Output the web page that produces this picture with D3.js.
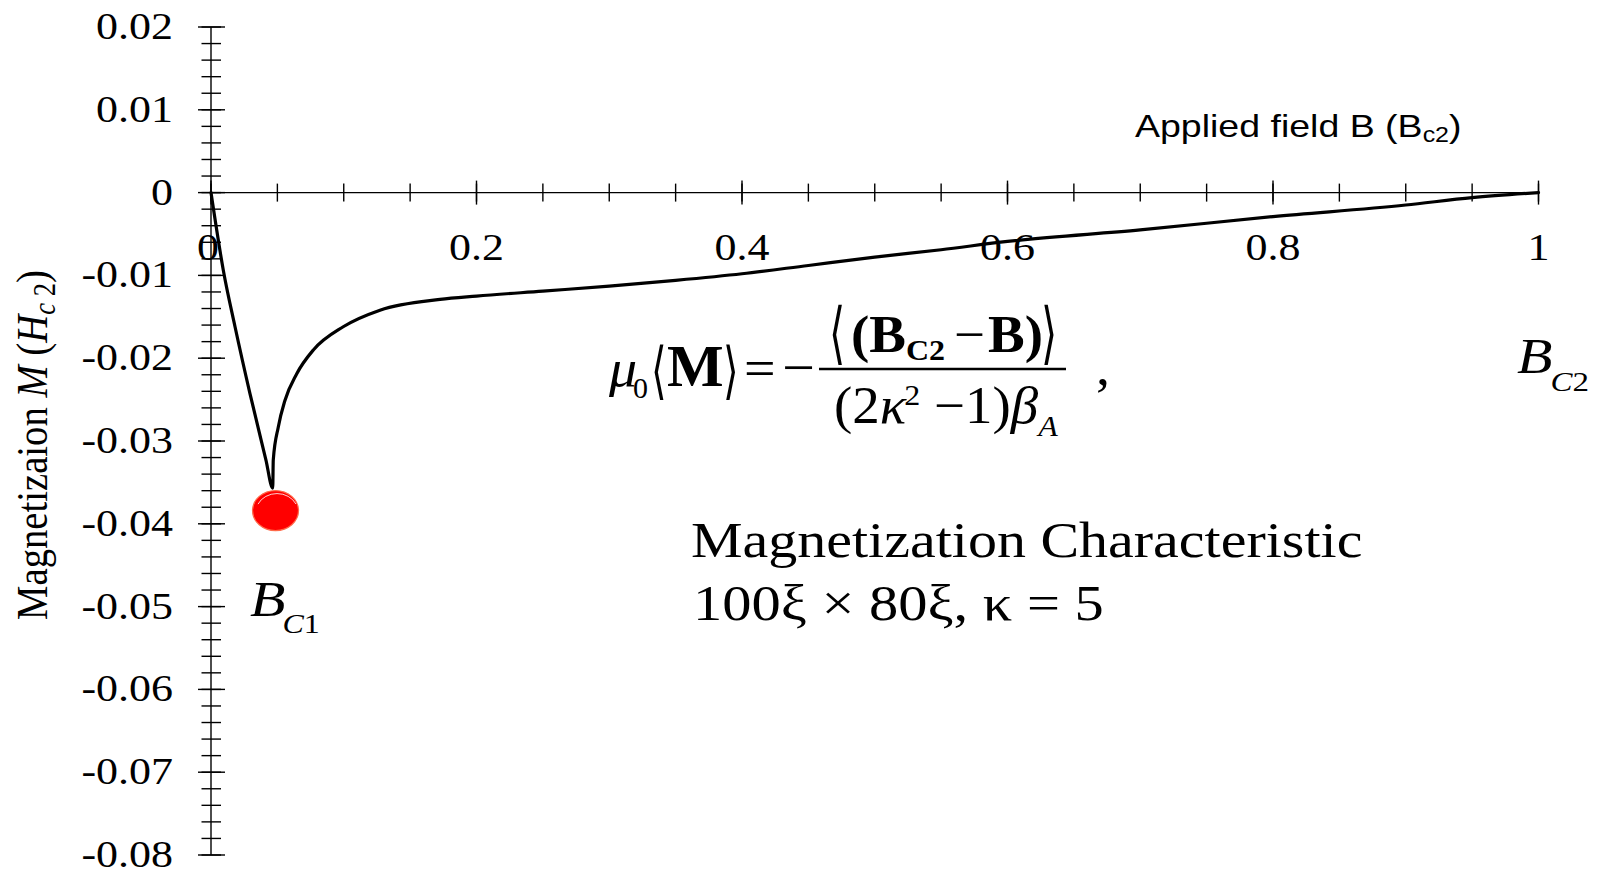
<!DOCTYPE html>
<html>
<head>
<meta charset="utf-8">
<script src="https://cdn.jsdelivr.net/npm/d3@7"></script>
<style>
  body { margin: 0; background: #fff; }
  svg { display: block; }
  text { fill: #000; }
</style>
</head>
<body>
<script>
// Applied field B (in units of Bc2) and the mean magnetization M (in units of Hc2)
const fieldB = [0, 0.0093, 0.0181, 0.0294, 0.0414, 0.0465, 0.0469, 0.0507, 0.0557, 0.0645,
  0.0771, 0.0996, 0.1273, 0.1725, 0.2, 0.25, 0.3, 0.35, 0.4, 0.45, 0.5, 0.55, 0.6, 0.7, 0.8, 0.9, 0.95, 1.0];
const magnetization = [0, -0.0094, -0.0162, -0.0243, -0.0323, -0.0357, -0.0323, -0.0283, -0.0251, -0.0219,
  -0.0190, -0.0162, -0.0142, -0.0129, -0.0125, -0.0119, -0.0113, -0.0106, -0.0098, -0.0088, -0.0078, -0.0069, -0.0059,
  -0.0045, -0.0029, -0.0015, -0.0006, 0];

// Lower critical field marker
const bc1Point = [0.0486, -0.0384];

const xTickValues = [0, 0.2, 0.4, 0.6, 0.8, 1];
const xTickLabels = ["0", "0.2", "0.4", "0.6", "0.8", "1"];
const yTickValues = [0.02, 0.01, 0, -0.01, -0.02, -0.03, -0.04, -0.05, -0.06, -0.07, -0.08];
const yTickLabels = ["0.02", "0.01", "0", "-0.01", "-0.02", "-0.03", "-0.04", "-0.05", "-0.06", "-0.07", "-0.08"];

const W = 1599, H = 869;
const SERIF = "'Liberation Serif', 'Times New Roman', serif";
const SANS = "'Liberation Sans', Arial, sans-serif";
const SY = 0.86; // vertical squash applied to all lettering

const svg = d3.select("body").append("svg").attr("width", W).attr("height", H);

const x = d3.scaleLinear().domain([0, 1]).range([211, 1538.5]);
const y = d3.scaleLinear().domain([-0.08, 0.02]).range([855, 27]);

// ---- axes -----------------------------------------------------------
const axisG = svg.append("g").attr("stroke", "#000").attr("stroke-width", 1.4);

// vertical axis line and crossing ticks
axisG.append("line").attr("x1", x(0)).attr("x2", x(0)).attr("y1", y(0.02)).attr("y2", y(-0.08));
const yMinor = y.ticks(50);
axisG.selectAll(".ymin").data(yMinor).join("line")
  .attr("x1", x(0) - 9.5).attr("x2", x(0) + 10)
  .attr("y1", d => y(d)).attr("y2", d => y(d));
axisG.selectAll(".ymaj").data(yTickValues).join("line")
  .attr("x1", x(0) - 13).attr("x2", x(0) + 14)
  .attr("y1", d => y(d)).attr("y2", d => y(d));

// horizontal axis line through M = 0
axisG.append("line").attr("x1", x(0)).attr("x2", x(1)).attr("y1", y(0)).attr("y2", y(0));
const xMinor = x.ticks(20);
axisG.selectAll(".xmin").data(xMinor).join("line")
  .attr("x1", d => x(d)).attr("x2", d => x(d))
  .attr("y1", y(0) - 9).attr("y2", y(0) + 9);
axisG.selectAll(".xmaj").data(xTickValues).join("line")
  .attr("x1", d => x(d)).attr("x2", d => x(d))
  .attr("y1", y(0) - 12).attr("y2", y(0) + 12);

// squashed text helper
function label(px, py, opts = {}) {
  const t = svg.append("text")
    .attr("transform", `translate(${px},${py}) scale(1,${opts.sy || SY})${opts.rotate ? ` rotate(${opts.rotate})` : ""}`)
    .attr("font-family", opts.family || SERIF)
    .attr("font-size", opts.size || 44)
    .attr("text-anchor", opts.anchor || "start");
  if (opts.italic) t.attr("font-style", "italic");
  if (opts.bold) t.attr("font-weight", "bold");
  return t;
}

// tick labels
xTickValues.forEach((v, i) => {
  label(x(v) - (v === 0 ? 3 : 0), 260, { size: 44, anchor: "middle" }).text(xTickLabels[i]);
});
yTickValues.forEach((v, i) => {
  label(173, y(v) + 12, { size: 44, anchor: "end" }).text(yTickLabels[i]);
});

// axis titles
const xt = label(1135, 137, { family: SANS, size: 37.5 });
xt.append("tspan").text("Applied field B (B");
xt.append("tspan").attr("font-size", 25).attr("dy", 6).text("c2");
xt.append("tspan").attr("dy", -6).text(")");

const yt = label(47, 445, { size: 45, anchor: "middle", rotate: -90 });
yt.append("tspan").text("Magnetizaion ");
yt.append("tspan").attr("font-style", "italic").text("M");
yt.append("tspan").text("  (");
yt.append("tspan").attr("font-style", "italic").text("H");
yt.append("tspan").attr("font-style", "italic").attr("font-size", 31).attr("dy", 8).text("c");
yt.append("tspan").attr("font-size", 31).text(" 2");
yt.append("tspan").attr("dy", -8).text(")");

// ---- magnetization curve -------------------------------------------
const pts = fieldB.map((b, i) => [b, magnetization[i]]);
svg.append("path")
  .datum(pts)
  .attr("fill", "none")
  .attr("stroke", "#000")
  .attr("stroke-width", 3.2)
  .attr("stroke-linejoin", "round")
  .attr("stroke-linecap", "round")
  .attr("d", d3.line().curve(d3.curveMonotoneX).x(d => x(d[0])).y(d => y(d[1])));

// Bc1 marker
svg.append("ellipse")
  .attr("cx", x(bc1Point[0])).attr("cy", y(bc1Point[1]))
  .attr("rx", 23).attr("ry", 20)
  .attr("fill", "#ff0000")
  .attr("stroke", "#ff6a4a").attr("stroke-width", 1.2);
svg.append("ellipse")
  .attr("cx", x(bc1Point[0]) + 1.5).attr("cy", y(bc1Point[1]) + 1.5)
  .attr("rx", 21).attr("ry", 18.5)
  .attr("fill", "none")
  .attr("stroke", "#fff").attr("stroke-width", 0.8)
  .attr("stroke-dasharray", "0 70 45 200");

// ---- annotations ---------------------------------------------------
const bc1 = label(250, 616, { size: 58, italic: true });
bc1.append("tspan").text("B");
bc1.append("tspan").attr("font-size", 32).attr("dy", 20).attr("dx", -3).text("C");
bc1.append("tspan").attr("font-size", 32).attr("font-style", "normal").text("1");

const bc2 = label(1517, 373, { size: 58, italic: true });
bc2.append("tspan").text("B");
bc2.append("tspan").attr("font-size", 33).attr("dy", 21).attr("dx", -2).text("C");
bc2.append("tspan").attr("font-size", 33).attr("font-style", "normal").text("2");

label(691, 557, { size: 58 }).text("Magnetization Characteristic");
label(693, 620, { size: 58.5 }).text("100ξ × 80ξ, κ = 5");

// formula  μ0⟨M⟩ = −⟨(Bc2 − B)⟩ / ((2κ² − 1)βA) ,
const FS = 0.95;
label(609, 386, { size: 56, italic: true, sy: FS }).text("μ");
label(633, 398, { size: 30, sy: FS }).text("0");

function bracket(px, py, ch, size, sy) {
  svg.append("text")
    .attr("transform", `translate(${px},${py}) scale(0.8,${sy})`)
    .attr("font-family", "'DejaVu Serif', 'DejaVu Sans', serif")
    .attr("font-size", size)
    .attr("font-weight", "200")
    .text(ch);
}
bracket(651, 392, "⟨", 50, 1.25);
label(667, 386, { size: 60, bold: true, sy: 1.0 }).text("M");
bracket(723, 392, "⟩", 50, 1.25);
label(744, 386, { size: 56, sy: FS }).text("=");
label(782, 386, { size: 58, sy: FS }).text("−");

svg.append("line")
  .attr("x1", 819).attr("x2", 1066).attr("y1", 369).attr("y2", 369)
  .attr("stroke", "#000").attr("stroke-width", 2.4);

bracket(829, 356, "⟨", 52, 1.3);
const num = label(851, 352, { size: 55, bold: true, sy: FS });
num.append("tspan").text("(B");
num.append("tspan").attr("font-size", 32).attr("dy", 8).text("C2");
label(954, 352, { size: 55, sy: FS }).text("−");
label(988, 352, { size: 55, bold: true, sy: FS }).text("B)");
bracket(1041, 356, "⟩", 52, 1.3);

const den = label(834, 423, { size: 55, sy: FS });
den.append("tspan").text("(2");
den.append("tspan").attr("font-style", "italic").text("κ");
den.append("tspan").attr("font-size", 32).attr("dy", -19).attr("dx", -2).text("2");
den.append("tspan").attr("dy", 19).text(" −1)");
den.append("tspan").attr("font-style", "italic").text("β");
den.append("tspan").attr("font-style", "italic").attr("font-size", 32).attr("dy", 14).text("A");

label(1096, 384, { size: 56, sy: FS }).text(",");
</script>
</body>
</html>
